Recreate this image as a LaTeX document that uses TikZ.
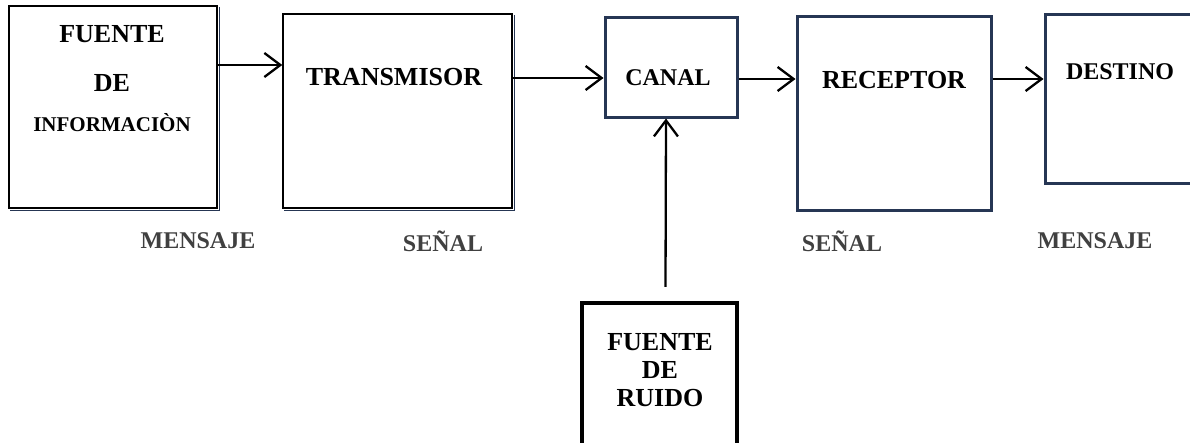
\documentclass[tikz,border=0pt]{standalone}
\usepackage{fontspec}
\setmainfont{Liberation Serif}
\usepackage[svgnames]{xcolor}
\usetikzlibrary{calc, arrows.meta}
\definecolor{EdgeBlue}{RGB}{38,54,84}
\definecolor{LabelGray}{RGB}{64,64,64}

\begin{document}
\begin{tikzpicture}[x=1pt, y=-1pt,
  blk/.style={draw=black, line width=1.5pt, fill=white, inner sep=0pt},
  blkblue/.style={draw=EdgeBlue, line width=3pt, fill=white, inner sep=0pt},
  blkthick/.style={draw=black, line width=4.5pt, fill=white, inner sep=0pt},
  txt/.style={font=\bfseries\fontsize{26}{30}\selectfont, align=center},
  lbl/.style={font=\bfseries\fontsize{24}{28}\selectfont, text=LabelGray},
  arr/.style={-{Straight Barb[length=16pt,width=24pt]}, line width=2.3pt}]
\useasboundingbox (0,0) rectangle (1190,442); % same size as the reference

% blocks, placed at pixel positions (y goes down)
\node[blk, minimum width=208pt, minimum height=202pt] (fuente) at (113,107) {};
\node[blk, minimum width=229pt, minimum height=194pt] (trans) at (397.5,111) {};
\node[blkblue, minimum width=132pt, minimum height=100pt] (canal) at (671,67) {};
\node[blkblue, minimum width=194pt, minimum height=194pt] (recep) at (894,113) {};
\node[blkblue, minimum width=155pt, minimum height=169pt] (destino) at (1122.5,98.5) {};
\node[blkthick, minimum width=155pt, minimum height=150pt] (ruido) at (659.5,378) {};

% thin shadow on the first two blocks
\draw[EdgeBlue, line width=1.2pt] ([shift={(2,1.5)}]fuente.south west) -| ([shift={(1.5,2)}]fuente.north east);
\draw[EdgeBlue, line width=1.2pt] ([shift={(2,1.5)}]trans.south west) -| ([shift={(1.5,2)}]trans.north east);

% texts in the blocks
\node[txt, font=\bfseries\fontsize{26}{49}\selectfont] (fuentetxt) at (112,79)
  {FUENTE\\DE\\[-9pt]{\fontsize{21}{21}\selectfont INFORMACIÒN}};
\node[txt] (transtxt) at (394,77) {TRANSMISOR};
\node[txt, font=\bfseries\fontsize{24}{28}\selectfont] (canaltxt) at (668,78) {CANAL};
\node[txt] (receptxt) at (894,80) {RECEPTOR};
\node[txt, font=\bfseries\fontsize{24}{28}\selectfont] (destinotxt) at (1120,72) {DESTINO};
\node[txt, font=\bfseries\fontsize{26}{28}\selectfont] (ruidotxt) at (660,370) {FUENTE\\DE\\RUIDO};

% signal names under the chain
\node[lbl] (msgin) at (198,241) {MENSAJE};
\node[lbl] (sigtx) at (443,241) {SEÑAL};
\node[lbl] (sigrx) at (842,241) {SEÑAL};
\node[lbl] (msgout) at (1095,241) {MENSAJE};

% connectors
\draw[arr] ([yshift=42pt]fuente.east) -- ([yshift=42pt]fuente.east -| trans.west);
\draw[arr] ([yshift=-11pt]canal.west -| trans.east) -- ([yshift=-11pt]canal.west);
\draw[arr] ([yshift=-12pt]canal.east) -- ([yshift=-12pt]canal.east -| recep.west);
\draw[arr] ([yshift=-12pt]canal.east -| recep.east) -- ([yshift=-12pt]canal.east -| destino.west);
\draw[arr] ([xshift=6pt, yshift=14pt]ruido.north) -- ([xshift=-5pt]canal.south);
\end{tikzpicture}
\end{document}
